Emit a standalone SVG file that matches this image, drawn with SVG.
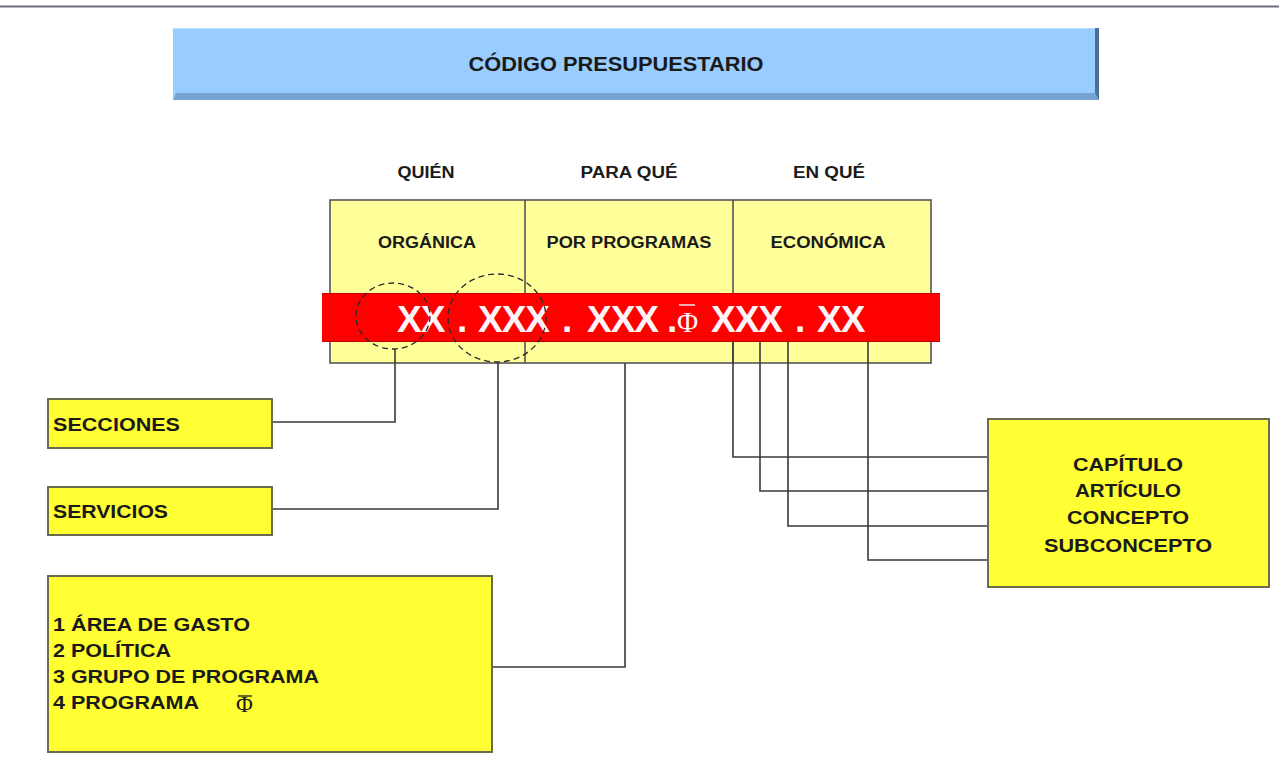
<svg xmlns="http://www.w3.org/2000/svg" width="1279" height="775" viewBox="0 0 1279 775">
<defs>
<style>
.t{font-family:"Liberation Sans",Arial,sans-serif;font-weight:bold;fill:#1a1a1a}
.box{fill:#ffff33;stroke:#6b6b50;stroke-width:2}
.conn{fill:none;stroke:#3a3a3a;stroke-width:1.6}
.dash{fill:none;stroke:#2a2a2a;stroke-width:1.3;stroke-dasharray:6 4}
.code{font-family:"Liberation Sans",Arial,sans-serif;font-weight:bold;font-size:37px;letter-spacing:-1px;fill:#fff4fa}
</style>
</defs>
<rect width="1279" height="775" fill="#ffffff"/>
<line x1="0" y1="6.5" x2="1279" y2="6.5" stroke="#6e6e80" stroke-width="2"/>

<g id="title">
<rect x="173" y="28" width="926" height="72" fill="#99ccff"/>
<polygon points="173,100 1099,100 1095,93 176,93" fill="#77a3d3"/>
<polygon points="1095,28 1099,28 1099,100 1095,93" fill="#4d6f92"/>
<line x1="173" y1="28.5" x2="1095" y2="28.5" stroke="#b8dcff" stroke-width="1"/>
<text class="t" x="616" y="71" font-size="20" text-anchor="middle" textLength="295" lengthAdjust="spacingAndGlyphs">CÓDIGO PRESUPUESTARIO</text>
</g>

<g id="headers">
<text class="t" x="426" y="178" font-size="16" text-anchor="middle" textLength="57" lengthAdjust="spacingAndGlyphs">QUIÉN</text>
<text class="t" x="629" y="178" font-size="16" text-anchor="middle" textLength="97" lengthAdjust="spacingAndGlyphs">PARA QUÉ</text>
<text class="t" x="829" y="178" font-size="16" text-anchor="middle" textLength="72" lengthAdjust="spacingAndGlyphs">EN QUÉ</text>
</g>

<g id="table">
<rect x="330" y="200" width="601" height="163" fill="#ffff99" stroke="#555" stroke-width="1.6"/>
<line x1="525" y1="200" x2="525" y2="363" stroke="#555" stroke-width="1.6"/>
<line x1="733" y1="200" x2="733" y2="363" stroke="#555" stroke-width="1.6"/>
<text class="t" x="427" y="248" font-size="16" text-anchor="middle" textLength="98" lengthAdjust="spacingAndGlyphs">ORGÁNICA</text>
<text class="t" x="629" y="248" font-size="16" text-anchor="middle" textLength="165" lengthAdjust="spacingAndGlyphs">POR PROGRAMAS</text>
<text class="t" x="828" y="248" font-size="16" text-anchor="middle" textLength="115" lengthAdjust="spacingAndGlyphs">ECONÓMICA</text>
</g>

<g id="code">
<rect x="322" y="293" width="618" height="49" fill="#ff0000"/>
<line x1="322" y1="293.5" x2="940" y2="293.5" stroke="#d00000" stroke-width="1"/>
<line x1="322" y1="341.5" x2="940" y2="341.5" stroke="#c00000" stroke-width="1"/>
<text class="code" y="332"><tspan x="397">XX</tspan><tspan x="457">.</tspan><tspan x="478">XXX</tspan><tspan x="562">.</tspan><tspan x="587">XXX</tspan><tspan x="667">.</tspan><tspan x="677" font-family="Liberation Serif,serif" font-weight="normal" font-size="29">Φ</tspan><tspan x="711">XXX</tspan><tspan x="795">.</tspan><tspan x="817">XX</tspan></text>
<line x1="679" y1="305" x2="695" y2="305" stroke="#fff4fa" stroke-width="1.4"/>
<ellipse class="dash" cx="393" cy="316" rx="37" ry="33"/>
<ellipse class="dash" cx="497" cy="318" rx="49" ry="44"/>
</g>

<g id="connectors">
<polyline class="conn" points="395,349 395,422 272,422"/>
<polyline class="conn" points="498,362 498,509 272,509"/>
<polyline class="conn" points="625,363 625,667 492,667"/>
<polyline class="conn" points="733,342 733,457 988,457"/>
<polyline class="conn" points="760,342 760,491 988,491"/>
<polyline class="conn" points="788,342 788,526 988,526"/>
<polyline class="conn" points="868,342 868,560 988,560"/>
</g>

<g id="secciones">
<rect class="box" x="48" y="399" width="224" height="49"/>
<text class="t" x="53" y="431" font-size="18" textLength="127" lengthAdjust="spacingAndGlyphs">SECCIONES</text>
</g>

<g id="servicios">
<rect class="box" x="48" y="487" width="224" height="48"/>
<text class="t" x="53" y="518" font-size="18" textLength="115" lengthAdjust="spacingAndGlyphs">SERVICIOS</text>
</g>

<g id="programas">
<rect class="box" x="48" y="576" width="444" height="176"/>
<text class="t" x="53" y="631" font-size="19" textLength="197" lengthAdjust="spacingAndGlyphs">1 ÁREA DE GASTO</text>
<text class="t" x="53" y="657" font-size="19" textLength="118" lengthAdjust="spacingAndGlyphs">2 POLÍTICA</text>
<text class="t" x="53" y="683" font-size="19" textLength="266" lengthAdjust="spacingAndGlyphs">3 GRUPO DE PROGRAMA</text>
<text class="t" x="53" y="709" font-size="19" textLength="146" lengthAdjust="spacingAndGlyphs">4 PROGRAMA</text>
<text x="236" y="712" font-family="Liberation Serif,serif" font-size="23" fill="#1a1a1a">Φ</text>
<line x1="238" y1="696" x2="252" y2="696" stroke="#1a1a1a" stroke-width="1.3"/>
</g>

<g id="economica">
<rect class="box" x="988" y="419" width="281" height="168"/>
<text class="t" x="1128" y="471" font-size="19" text-anchor="middle" textLength="110" lengthAdjust="spacingAndGlyphs">CAPÍTULO</text>
<text class="t" x="1128" y="497" font-size="19" text-anchor="middle" textLength="106" lengthAdjust="spacingAndGlyphs">ARTÍCULO</text>
<text class="t" x="1128" y="524" font-size="19" text-anchor="middle" textLength="122" lengthAdjust="spacingAndGlyphs">CONCEPTO</text>
<text class="t" x="1128" y="552" font-size="19" text-anchor="middle" textLength="168" lengthAdjust="spacingAndGlyphs">SUBCONCEPTO</text>
</g>
</svg>
